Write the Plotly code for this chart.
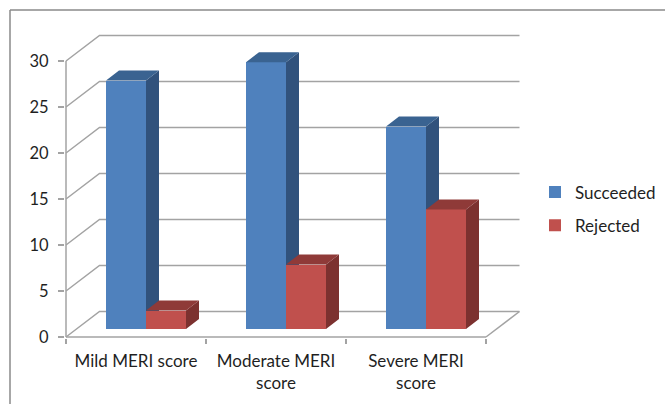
import plotly.graph_objects as go

categories = ["Mild MERI score", "Moderate MERI<br>score", "Severe MERI<br>score"]
succeeded = [27, 29, 22]
rejected = [2, 7, 13]
y_ticks = [0, 5, 10, 15, 20, 25, 30]

# 3D look, in axis units
WALL_DX, WALL_DY = 33.5 / 140, 25.5 / 9.2
BAR_DX, BAR_DY = 13 / 140, 10 / 9.2
FLOOR = 0.87
BAR_W = 40 / 140
GRID = "#a3a3a3"
FONT = "Lato"
TEXT = "#1f1f1f"

centers = [i + 0.5 for i in range(len(categories))]
fig = go.Figure()

# wall and floor gridlines, plus the front axis lines
gx, gy = [], []
for v in y_ticks:
    gx += [0, WALL_DX, 3 + WALL_DX, None]
    gy += [v, v + WALL_DY, v + WALL_DY, None]
gx += [3, 3 + WALL_DX, None, 0, 0, None, 0, 3]
gy += [0, WALL_DY, None, 0, 30, None, 0, 0]
fig.add_trace(go.Scatter(x=gx, y=gy, mode="lines", line=dict(color=GRID, width=1.5),
                         showlegend=False, hoverinfo="skip", zorder=0))


def faces(values, off, kind):
    xs, ys = [], []
    for c, v in zip(centers, values):
        l = c + off
        r = l + BAR_W
        t = FLOOR + v
        if kind == "side":
            xs += [r, r + BAR_DX, r + BAR_DX, r, r, None]
            ys += [FLOOR, FLOOR + BAR_DY, t + BAR_DY, t, FLOOR, None]
        else:
            xs += [l, r, r + BAR_DX, l + BAR_DX, l, None]
            ys += [t, t, t + BAR_DY, t + BAR_DY, t, None]
    return xs, ys


series = [
    ("Succeeded", succeeded, -30 / 140, "#4f81bd", "#31527c", "#3a6391", 1),
    ("Rejected", rejected, 10 / 140, "#c0504d", "#7c312f", "#8f3a38", 2),
]
for name, vals, off, front, side, top, z in series:
    for kind, col in (("side", side), ("top", top)):
        xs, ys = faces(vals, off, kind)
        fig.add_trace(go.Scatter(x=xs, y=ys, mode="lines", fill="toself", fillcolor=col,
                                 line=dict(width=0, color=col), showlegend=False,
                                 hoverinfo="skip", zorder=z))
    fig.add_trace(go.Bar(x=centers, y=vals, base=FLOOR, width=BAR_W, offset=off, name=name,
                         marker=dict(color=front, line=dict(width=0)),
                         legendgroup=name, zorder=z))

PLOT_L, PLOT_R, PLOT_T, PLOT_B = 65, 528, 29, 338
fig.update_layout(
    width=665, height=404, barmode="overlay", bargap=0,
    margin=dict(l=PLOT_L, r=665 - PLOT_R, t=PLOT_T, b=404 - PLOT_B, autoexpand=False),
    paper_bgcolor="white", plot_bgcolor="white",
    font=dict(family=FONT, size=17, color=TEXT),
    legend=dict(xref="container", yref="container", x=535 / 665, y=1 - 209 / 404,
                xanchor="left", yanchor="middle", tracegroupgap=8,
                font=dict(family=FONT, size=17, color=TEXT), bgcolor="rgba(0,0,0,0)"),
    xaxis=dict(range=[-1 / 140, 3.3], tickmode="array", tickvals=centers, ticktext=categories,
               ticks="", showgrid=False, zeroline=False, showline=False,
               minor=dict(tickmode="array", tickvals=[0, 1, 2, 3], ticks="outside", ticklen=5,
                          tickcolor=GRID, tickwidth=1.5, showgrid=False),
               tickfont=dict(family=FONT, size=17, color=TEXT), ticklabelstandoff=11),
    yaxis=dict(range=[-1 / 9.2, (337 - 29) / 9.2], tickmode="array", tickvals=y_ticks,
               ticks="outside", ticklen=6, tickcolor=GRID, tickwidth=1.5, showgrid=False,
               zeroline=False, showline=False,
               tickfont=dict(family=FONT, size=16.5, color=TEXT), ticklabelstandoff=6),
    shapes=[
        dict(type="line", xref="paper", yref="paper",
             x0=(10 - PLOT_L) / (PLOT_R - PLOT_L), x1=(665 - PLOT_L) / (PLOT_R - PLOT_L),
             y0=(PLOT_B - 10) / (PLOT_B - PLOT_T), y1=(PLOT_B - 10) / (PLOT_B - PLOT_T),
             line=dict(color="#8a8a8a", width=1.5)),
        dict(type="line", xref="paper", yref="paper",
             x0=(10 - PLOT_L) / (PLOT_R - PLOT_L), x1=(10 - PLOT_L) / (PLOT_R - PLOT_L),
             y0=(PLOT_B - 10) / (PLOT_B - PLOT_T), y1=(PLOT_B - 404) / (PLOT_B - PLOT_T),
             line=dict(color="#8a8a8a", width=1.5)),
    ],
)
fig.write_html("out.html", post_script="document.body.style.margin='0';", config=dict(displayModeBar=False))
